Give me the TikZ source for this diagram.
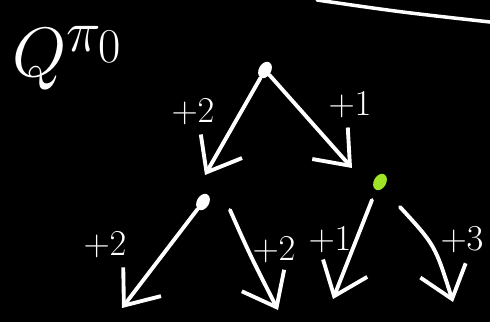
\documentclass[tikz,border=0pt]{standalone}
\usetikzlibrary{arrows.meta, shapes.geometric}
\begin{document}
\begin{tikzpicture}[x=0.02cm, y=-0.02cm, line cap=round, line join=round,
  edge/.style={draw=white, line width=2.2pt, -{Straight Barb[length=0.6cm, width=0.95cm, line width=2.2pt]}},
  dot/.style={draw=none, fill=white, ellipse, inner sep=0pt, minimum width=10pt, minimum height=7pt, rotate=60},
  lab/.style={text=white, font=\fontsize{22}{22}\selectfont}]
\useasboundingbox (0,0) rectangle (490,322);
\clip (0,0) rectangle (490,322);
\fill[black] (0,0) rectangle (490,322);
\node[text=white, anchor=west, inner sep=0pt, font=\fontsize{24.88}{30}\selectfont] (qlabel) at (12,58) {\scalebox{1.6}{$Q^{\pi_0}$}};
\coordinate (ls) at (317,0);
\coordinate (le) at (490,22);
\draw[white, line width=2pt] (ls) .. controls (400,12) .. (le);
\node[dot] (root) at (265,70) {};
\node[dot, fill={rgb,255:red,160;green,228;blue,40}] (g) at (380,182) {};
\node[dot] (w) at (203,202) {};
\coordinate (t1) at (205,175);
\coordinate (t2) at (352,168);
\coordinate (t3) at (122,308);
\coordinate (t4) at (278,310);
\coordinate (t5) at (333,299);
\coordinate (t6) at (453,302);
\draw[edge] (root) -- (t1);
\draw[edge] (root) -- (t2);
\draw[edge] (w) -- (t3);
\draw[edge] ([shift={(27,8)}]w.center) .. controls (250,255) .. (t4);
\draw[edge] ([shift={(-8,18)}]g.center) -- (t5);
\draw[edge] ([shift={(20,25)}]g.center) .. controls (435,245) .. (t6);
\node[lab] (l1) at (193,112) {$+2$};
\node[lab] (l2) at (350,105) {$+1$};
\node[lab] (l3) at (105,245) {$+2$};
\node[lab] (l4) at (274,250) {$+2$};
\node[lab] (l5) at (330,240) {$+1$};
\node[lab] (l6) at (462,240) {$+3$};
\end{tikzpicture}
\end{document}
